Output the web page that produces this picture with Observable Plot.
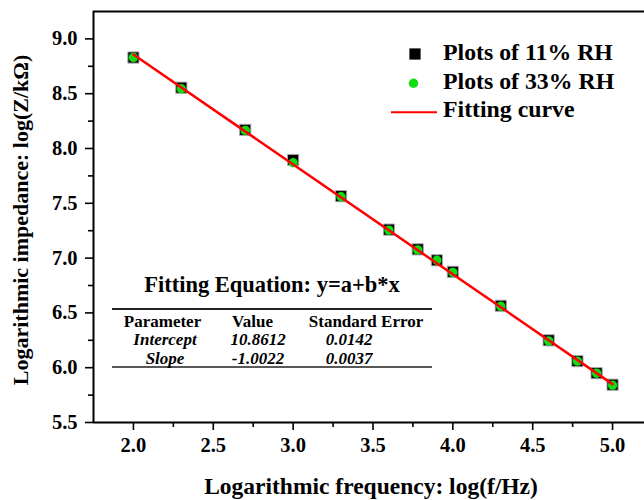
<!DOCTYPE html>
<html>
<head>
<meta charset="utf-8">
<script src="https://cdn.jsdelivr.net/npm/d3@7"></script>
<script src="https://cdn.jsdelivr.net/npm/@observablehq/plot@0.6"></script>
<style>
  html, body { margin: 0; padding: 0; background: #fff; }
  #chart { width: 644px; height: 500px; }
  svg { font-family: "Liberation Serif", "Times New Roman", serif; }
</style>
</head>
<body>
<div id="chart"></div>
<script>
// ---- data ----
const freq = [2.0, 2.3, 2.7, 3.0, 3.3, 3.6, 3.78, 3.9, 4.0, 4.3, 4.6, 4.78, 4.9, 5.0];
const rh11 = [8.83, 8.555, 8.17, 7.895, 7.565, 7.26, 7.08, 6.98, 6.875, 6.565, 6.25, 6.06, 5.95, 5.845];
const rh33 = [8.83, 8.545, 8.165, 7.87, 7.56, 7.255, 7.075, 6.98, 6.87, 6.56, 6.245, 6.06, 5.95, 5.84];
const fitX = [2.0, 5.0];
const fitY = [8.857, 5.850];
const xMajor = [2.0, 2.5, 3.0, 3.5, 4.0, 4.5, 5.0];
const xMinor = [2.25, 2.75, 3.25, 3.75, 4.25, 4.75];
const yMajor = [5.5, 6.0, 6.5, 7.0, 7.5, 8.0, 8.5, 9.0];
const yMinor = [5.75, 6.25, 6.75, 7.25, 7.75, 8.25, 8.75];
const legendLabels = ["Plots of 11% RH", "Plots of 33% RH", "Fitting curve"];
const tableTitle = "Fitting Equation: y=a+b*x";
const tableHeader = ["Parameter", "Value", "Standard Error"];
const tableRows = [["Intercept", "10.8612", "0.0142"], ["Slope", "-1.0022", "0.0037"]];
const xLabel = "Logarithmic frequency: log(f/Hz)";
const yLabel = "Logarithmic impedance: log(Z/k\u03A9)";

const pts11 = freq.map((x, i) => ({x, y: rh11[i]}));
const pts33 = freq.map((x, i) => ({x, y: rh33[i]}));
const fit = fitX.map((x, i) => ({x, y: fitY[i]}));

const X0 = 1.75, X1 = 5.2, Y0 = 5.5, Y1 = 9.25;

const chart = Plot.plot({
  width: 644,
  height: 500,
  marginLeft: 93,
  marginRight: 0,
  marginTop: 11,
  marginBottom: 78,
  style: {fontFamily: "'Liberation Serif','Times New Roman',serif", fontWeight: "bold", fontSize: "20px", background: "#fff", color: "#000"},
  x: {domain: [X0, X1], label: null},
  y: {domain: [Y0, Y1], label: null},
  marks: [
    Plot.axisX({ticks: xMajor, tickSize: 8, tickPadding: 7, tickFormat: d => d.toFixed(1), strokeWidth: 1.6, fontSize: 20.5, fontWeight: "bold", label: null}),
    Plot.axisX({ticks: xMinor, tickSize: 5, tickFormat: () => "", strokeWidth: 1.6, label: null}),
    Plot.axisY({ticks: yMajor, tickSize: 8, tickPadding: 8, tickFormat: d => d.toFixed(1), strokeWidth: 1.6, fontSize: 20.5, fontWeight: "bold", label: null}),
    Plot.axisY({ticks: yMinor, tickSize: 5, tickFormat: () => "", strokeWidth: 1.6, label: null}),
    Plot.ruleX([X0], {strokeWidth: 2}),
    Plot.ruleY([Y0], {strokeWidth: 2}),
    Plot.ruleY([Y1], {strokeWidth: 2}),
    Plot.dot(pts11, {x: "x", y: "y", symbol: "square", r: 6.3, fill: "#000", stroke: "#aaa", strokeWidth: 1}),
    Plot.dot(pts33, {x: "x", y: "y", r: 4.7, fill: "#11dd11", stroke: "none"}),
    Plot.line(fit, {x: "x", y: "y", stroke: "#ff0000", strokeWidth: 2.5})
  ]
});
document.getElementById("chart").appendChild(chart);

// ---- annotations (legend, table, axis titles) ----
const svg = d3.select(chart);
const g = svg.append("g")
  .attr("font-family", "'Liberation Serif','Times New Roman',serif")
  .attr("font-weight", "bold")
  .attr("fill", "#000")
  .attr("text-anchor", "start");

// axis titles
g.append("text").attr("x", 371).attr("y", 494).attr("text-anchor", "middle").attr("font-size", 23.5).text(xLabel);
g.append("text").attr("transform", "translate(28,220) rotate(-90)").attr("text-anchor", "middle").attr("font-size", 22).text(yLabel);

// legend
const lg = g.append("g");
lg.append("rect").attr("x", 415 - 5.6).attr("y", 54 - 5.6).attr("width", 11.2).attr("height", 11.2).attr("fill", "#000");
lg.append("circle").attr("cx", 413.5).attr("cy", 83.3).attr("r", 4.7).attr("fill", "#11dd11");
lg.append("line").attr("x1", 391).attr("x2", 437).attr("y1", 112.3).attr("y2", 112.3).attr("stroke", "#ff0000").attr("stroke-width", 2);
[60, 89, 117].forEach((yy, i) => {
  lg.append("text").attr("x", 443).attr("y", yy).attr("text-anchor", "start").attr("font-size", 23.8).text(legendLabels[i]);
});

// table
const tg = g.append("g");
tg.append("text").attr("x", 272).attr("y", 292).attr("text-anchor", "middle").attr("font-size", 22.5).text(tableTitle);
tg.append("line").attr("x1", 112).attr("x2", 432).attr("y1", 309).attr("y2", 309).attr("stroke", "#222").attr("stroke-width", 2);
tg.append("line").attr("x1", 112).attr("x2", 432).attr("y1", 367).attr("y2", 367).attr("stroke", "#222").attr("stroke-width", 1.6);
const hx = [162.5, 252.5, 366];
tableHeader.forEach((t, i) => {
  tg.append("text").attr("x", hx[i]).attr("y", 327).attr("text-anchor", "middle").attr("font-size", 17).text(t);
});
const rx = [165, 258, 349];
tableRows.forEach((row, r) => {
  row.forEach((t, i) => {
    tg.append("text").attr("x", rx[i]).attr("y", 345 + r * 19).attr("text-anchor", "middle").attr("font-size", 17).attr("font-style", "italic").text(t);
  });
});
</script>
</body>
</html>
